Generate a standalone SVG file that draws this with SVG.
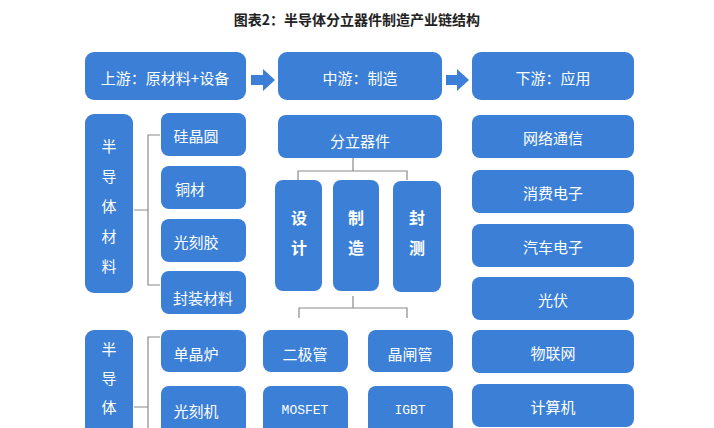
<svg xmlns="http://www.w3.org/2000/svg" width="714" height="428" viewBox="0 0 714 428">
<style>
.b{fill:#3b7fd6}
.t{fill:#fff;font-family:"Noto Sans CJK SC","Liberation Sans",sans-serif;font-size:15px;text-anchor:middle;dominant-baseline:central}
.v{font-size:16px;font-weight:bold}
.c{fill:none;stroke:#8a8a8a;stroke-width:1.2}
.a{fill:#3b7fd6}
</style>
<rect width="714" height="428" fill="#fff"/>
<text x="357" y="19" style="font-family:'Noto Sans CJK SC',sans-serif;font-size:14px;font-weight:bold;text-anchor:middle;dominant-baseline:central" fill="#222">图表2：半导体分立器件制造产业链结构</text>
<g id="connectors">
<path class="a" d="M251 75h12v-6l12 11-12 11v-6h-12z"/>
<path class="a" d="M446 75h11v-6l12 11-12 11v-6h-11z"/>
<path class="c" d="M160 135h-12v150h12M148 210h-14"/>
<path class="c" d="M160 337h-12v100M148 407h-14"/>
<path class="c" d="M353 158v13M298 180v-9h109v9"/>
<path class="c" d="M353 296v12M299 318v-10h108v10"/>
</g>
<g id="up"><rect class="b" x="85" y="52" width="161" height="48" rx="9"/><text class="t" x="165" y="77">上游：原材料+设备</text></g>
<g id="mid"><rect class="b" x="278" y="52" width="164" height="48" rx="9"/><text class="t" x="360" y="77">中游：制造</text></g>
<g id="down"><rect class="b" x="472" y="52" width="162" height="48" rx="9"/><text class="t" x="553" y="77">下游：应用</text></g>
<g id="mat"><rect class="b" x="85" y="114" width="48" height="179" rx="9"/><text class="t" x="109" y="145">半</text><text class="t" x="109" y="175">导</text><text class="t" x="109" y="205">体</text><text class="t" x="109" y="235">材</text><text class="t" x="109" y="265">料</text></g>
<g id="m1"><rect class="b" x="161" y="113" width="85" height="43" rx="8"/><text class="t" x="196" y="135">硅晶圆</text></g>
<g id="m2"><rect class="b" x="161" y="166" width="85" height="43" rx="8"/><text class="t" x="190" y="188">铜材</text></g>
<g id="m3"><rect class="b" x="161" y="219" width="85" height="43" rx="8"/><text class="t" x="196" y="241">光刻胶</text></g>
<g id="m4"><rect class="b" x="161" y="271" width="85" height="43" rx="8"/><text class="t" x="203" y="297">封装材料</text></g>
<g id="fl"><rect class="b" x="278" y="115" width="164" height="43" rx="8"/><text class="t" x="360" y="140">分立器件</text></g>
<g id="sj"><rect class="b" x="275" y="180" width="47" height="111" rx="8"/><text class="t v" x="299" y="217">设</text><text class="t v" x="299" y="247">计</text></g>
<g id="zz"><rect class="b" x="333" y="180" width="46" height="111" rx="8"/><text class="t v" x="356" y="217">制</text><text class="t v" x="356" y="247">造</text></g>
<g id="fc"><rect class="b" x="393" y="181" width="48" height="111" rx="8"/><text class="t v" x="417" y="217">封</text><text class="t v" x="417" y="247">测</text></g>
<g id="eq"><rect class="b" x="85" y="330" width="48" height="110" rx="9"/><text class="t" x="109" y="348">半</text><text class="t" x="109" y="377">导</text><text class="t" x="109" y="406">体</text></g>
<g id="e1"><rect class="b" x="161" y="330" width="85" height="42" rx="8"/><text class="t" x="196" y="353">单晶炉</text></g>
<g id="e2"><rect class="b" x="161" y="386" width="85" height="50" rx="8"/><text class="t" x="196" y="410">光刻机</text></g>
<g id="d1"><rect class="b" x="263" y="330" width="85" height="42" rx="8"/><text class="t" x="305" y="353">二极管</text></g>
<g id="d2"><rect class="b" x="368" y="330" width="85" height="42" rx="8"/><text class="t" x="410" y="353">晶闸管</text></g>
<g id="d3"><rect class="b" x="263" y="386" width="85" height="50" rx="8"/><text class="t" x="305" y="410" style="font-family:'Liberation Mono',monospace;font-size:13px">MOSFET</text></g>
<g id="d4"><rect class="b" x="368" y="386" width="85" height="50" rx="8"/><text class="t" x="410" y="410" style="font-family:'Liberation Mono',monospace;font-size:13px">IGBT</text></g>
<g id="a1"><rect class="b" x="472" y="115" width="162" height="43" rx="8"/><text class="t" x="553" y="137">网络通信</text></g>
<g id="a2"><rect class="b" x="472" y="170" width="162" height="43" rx="8"/><text class="t" x="553" y="192">消费电子</text></g>
<g id="a3"><rect class="b" x="472" y="224" width="162" height="43" rx="8"/><text class="t" x="553" y="246">汽车电子</text></g>
<g id="a4"><rect class="b" x="472" y="277" width="162" height="43" rx="8"/><text class="t" x="553" y="299">光伏</text></g>
<g id="a5"><rect class="b" x="472" y="330" width="162" height="43" rx="8"/><text class="t" x="553" y="352">物联网</text></g>
<g id="a6"><rect class="b" x="472" y="384" width="162" height="43" rx="8"/><text class="t" x="553" y="406">计算机</text></g>
</svg>
